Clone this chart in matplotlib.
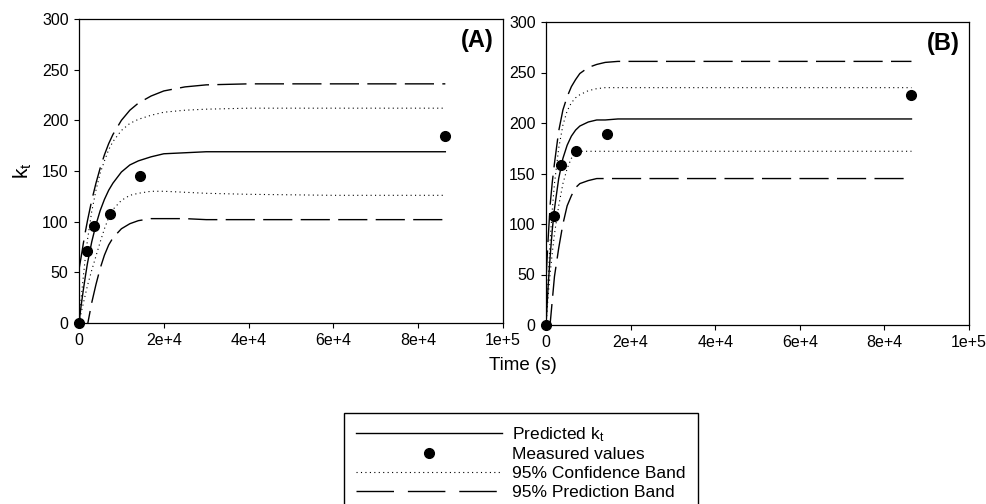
import matplotlib
matplotlib.use("Agg")
import matplotlib.pyplot as plt
from matplotlib.lines import Line2D

plt.rcParams['font.family'] = ['Liberation Sans', 'DejaVu Sans']
plt.rcParams['mathtext.fontset'] = 'custom'
plt.rcParams['mathtext.rm'] = 'Liberation Sans'
plt.rcParams['mathtext.it'] = 'Liberation Sans:italic'

t_curve = [0, 500, 1000, 1500, 2000, 3000, 4000, 5000, 6000, 7000, 8000,
           10000, 12000, 14000, 17000, 20000, 25000, 30000, 40000, 60000, 86400]

# measured values
t_meas = [0, 1800, 3600, 7200, 14400, 86400]
a_meas = [0, 71, 96, 108, 145, 185]
b_meas = [0, 108, 158, 172, 189, 228]

# panel A curves
a_pred = [0, 17, 32, 46, 59, 80, 97, 111, 122, 131, 138,
          149, 156, 160, 164, 167, 168, 169, 169, 169, 169]
a_conf_hi = [0, 24, 45, 65, 82, 110, 131, 148, 160, 171, 179,
             190, 197, 201, 205, 208, 210, 211, 212, 212, 212]
a_conf_lo = [0, 10, 19, 28, 37, 52, 66, 80, 93, 104, 112,
             121, 126, 128, 130, 130, 129, 128, 127, 126, 126]
a_pb_hi = [53, 65, 78, 90, 101, 121, 138, 153, 166, 177, 186,
           200, 210, 217, 224, 229, 233, 235, 236, 236, 236]
a_pb_lo = [-53, -40, -27, -14, -2, 20, 38, 54, 67, 77, 84,
           93, 98, 101, 103, 103, 103, 102, 102, 102, 102]

# panel B curves
b_pred = [0, 38, 69, 95, 115, 145, 165, 178, 187, 193, 197,
          201, 203, 203, 204, 204, 204, 204, 204, 204, 204]
b_conf_hi = [0, 45, 85, 115, 140, 175, 198, 212, 220, 225, 228,
             232, 234, 235, 235, 235, 235, 235, 235, 235, 235]
b_conf_lo = [0, 28, 52, 72, 90, 118, 140, 155, 165, 170, 172,
             172, 172, 172, 172, 172, 172, 172, 172, 172, 172]
b_pb_hi = [45, 85, 120, 142, 160, 192, 213, 226, 236, 243, 249,
           255, 258, 260, 261, 261, 261, 261, 261, 261, 261]
b_pb_lo = [-45, -20, 2, 25, 48, 76, 100, 118, 128, 136, 140,
           143, 145, 145, 145, 145, 145, 145, 145, 145, 145]

x_ticks = [0, 20000, 40000, 60000, 80000, 100000]
x_ticklabels = ['0', '2e+4', '4e+4', '6e+4', '8e+4', '1e+5']
y_ticks = [0, 50, 100, 150, 200, 250, 300]

DOT = (0, (1, 3))
DASH = (0, (21, 6))

W, H = 987, 504
fig = plt.figure(figsize=(W / 100, H / 100), dpi=100)

panels = [
    ((79, 19, 503, 323), '(A)', a_meas, a_pred, a_conf_hi, a_conf_lo, a_pb_hi, a_pb_lo),
    ((546, 22, 969, 325), '(B)', b_meas, b_pred, b_conf_hi, b_conf_lo, b_pb_hi, b_pb_lo),
]

for (x0, y0, x1, y1), tag, meas, pred, chi, clo, phi, plo in panels:
    ax = fig.add_axes([x0 / W, 1 - y1 / H, (x1 - x0) / W, (y1 - y0) / H])
    ax.plot(t_curve, pred, color='black', lw=1.0)
    ax.plot(t_curve, chi, color='black', lw=0.8, linestyle=DOT)
    ax.plot(t_curve, clo, color='black', lw=0.8, linestyle=DOT)
    ax.plot(t_curve, phi, color='black', lw=1.0, linestyle=DASH)
    ax.plot(t_curve, plo, color='black', lw=1.0, linestyle=DASH)
    ax.plot(t_meas, meas, 'o', color='black', ms=7, clip_on=False, zorder=5)
    ax.set_xlim(0, 100000)
    ax.set_ylim(0, 300)
    ax.set_xticks(x_ticks)
    ax.set_xticklabels(x_ticklabels)
    ax.set_yticks(y_ticks)
    ax.tick_params(direction='out', length=3.5, width=0.8, labelsize=11.5, pad=4)
    for s in ax.spines.values():
        s.set_linewidth(0.9)
    ax.text(0.978, 0.968, tag, transform=ax.transAxes, ha='right', va='top',
            fontsize=17, fontweight='bold')
    if tag == '(A)':
        ax.set_ylabel('$\\mathregular{k_t}$', fontsize=15, labelpad=6)

fig.text(523 / W, 1 - 366 / H, 'Time (s)', ha='center', va='center', fontsize=13.5)

handles = [
    Line2D([], [], color='black', lw=1.0),
    Line2D([], [], color='black', marker='o', ms=7, linestyle='none'),
    Line2D([], [], color='black', lw=0.8, linestyle=DOT),
    Line2D([], [], color='black', lw=1.0, linestyle=(0, (27, 10))),
]
labels = ['Predicted k$_\\mathregular{t}$', 'Measured values',
          '95% Confidence Band', '95% Prediction Band']
leg = fig.legend(handles, labels, loc='upper left',
                 bbox_to_anchor=(344 / W, 1 - 413 / H), borderaxespad=0,
                 fontsize=12.5, handlelength=8.4, handletextpad=0.6,
                 labelspacing=0.2, borderpad=0.7, fancybox=False,
                 frameon=True, framealpha=1)
leg.get_frame().set_edgecolor('black')
leg.get_frame().set_linewidth(1.0)

fig.savefig('out.png', dpi=100)
